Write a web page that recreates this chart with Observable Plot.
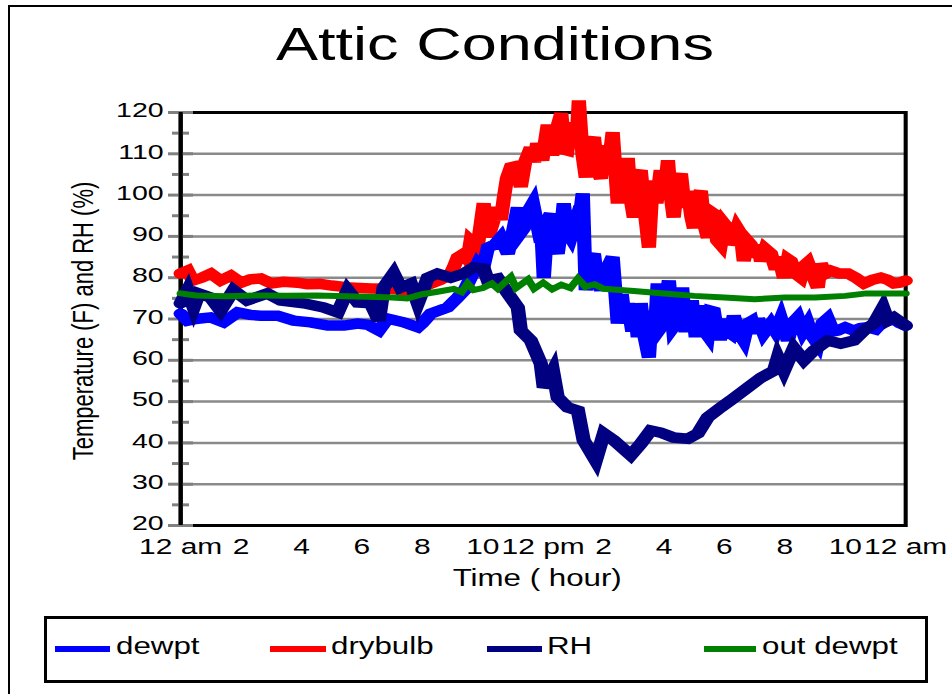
<!DOCTYPE html>
<html><head><meta charset="utf-8">
<script src="https://cdn.jsdelivr.net/npm/d3@7"></script>
<script src="https://cdn.jsdelivr.net/npm/@observablehq/plot@0.6"></script>
<style>
html,body{margin:0;padding:0;background:#fff;overflow:hidden;}
#wrap{position:relative;width:952px;height:694px;overflow:hidden;font-family:"Liberation Sans",Arial,sans-serif;background:#fff;}
#border{position:absolute;left:8px;top:5px;width:1000px;height:800px;border:2px solid #000;box-sizing:border-box;}
#title{position:absolute;left:19px;top:21px;width:952px;text-align:center;font-size:46px;line-height:46px;transform:scaleX(1.37);transform-origin:center;white-space:nowrap;}
#chart{position:absolute;left:0;top:0;}
#legend{position:absolute;left:44px;top:616px;width:884px;height:67px;border:3px solid #000;box-sizing:border-box;background:#fff;}
.sw{position:absolute;top:27px;height:6px;}
.lab{position:absolute;top:16px;font-size:23px;line-height:23px;transform:scaleX(1.36);transform-origin:left center;white-space:nowrap;}
</style>
</head><body>
<div id="wrap">
  <div id="border"></div>
  <div id="chart"></div>
  <div id="title"></div>
  <div id="legend"></div>
</div>
<script>
// ---------- data ----------
const titleText = "Attic Conditions";
const yLabel = "Temperature (F) and RH (%)";
const xLabel = "Time ( hour)";
const xTicks = [0, 2, 4, 6, 8, 10, 12, 14, 16, 18, 20, 22, 24];
const xTickLabels = ["12 am", "2", "4", "6", "8", "10", "12 pm", "2", "4", "6", "8", "10", "12 am"];
const yMajor = [20, 30, 40, 50, 60, 70, 80, 90, 100, 110, 120];
const yMinor = [25, 35, 45, 55, 65, 75, 85, 95, 105, 115];

const seriesNames = ["dewpt", "drybulb", "RH", "out dewpt"];
const seriesColors = ["#0000ff", "#ff0000", "#000080", "#008000"];

const drybulbHours = [0,0.23,0.4,0.7,1.0,1.32,1.66,2.0,2.3,2.65,3.0,3.4,3.87,4.2,4.6,5.0,5.6,6.3,6.9,7.4,7.85,8.1,8.28,8.6,8.94,9.04,9.17,9.37,9.5,9.6,9.83,10.03,10.15,10.25,10.4,10.5,10.6,10.7,10.8,10.93,11.1,11.26,11.4,11.59,11.7,11.8,11.97,12.15,12.3,12.45,12.6,12.7,12.8,12.9,13.0,13.1,13.18,13.3,13.41,13.55,13.68,13.8,13.91,14.05,14.15,14.3,14.4,14.47,14.6,14.7,14.8,14.9,15.0,15.1,15.23,15.35,15.5,15.6,15.66,15.75,15.89,16.0,16.13,16.22,16.32,16.45,16.56,16.68,16.79,16.9,16.99,17.1,17.22,17.33,17.45,17.55,17.65,17.76,17.88,18.0,18.11,18.2,18.31,18.42,18.54,18.64,18.75,18.87,19.0,19.1,19.21,19.35,19.54,19.7,19.8,19.97,20.1,20.2,20.35,20.53,20.65,20.76,20.9,21.09,21.19,21.35,21.52,21.8,22.09,22.35,22.62,22.9,23.18,23.4,23.61,23.8,24];
const drybulbValues = [81,81.7,79.3,80,81,79.3,80.5,78.8,79.6,79.8,78.6,79,78.8,78.4,78.5,78.1,77.6,77.4,77.3,77,76.3,78,78.6,79.5,81,82.5,84.9,85.8,84.5,89,87.5,98,90,91.4,95,97,94,99.4,104,106.7,107,102,108,111.5,108,112.5,108.4,117,109.6,116,119.8,111,110.8,116,117.3,112,122.9,110,104.3,112,114,106,104,112,106,115.2,105,98,108,100,109,99,94.6,104,106,97,87.3,100,103.5,98,106,99,108.4,100,94.6,103,105.2,97,101,95,92,99,101,93,89.7,96,95.5,89,88,93,92,88,89.5,92,90.6,84,89,88,85,88,84,87,85.8,82,85,80,84.5,84,81,80,83,83.7,81,77.6,83.4,81,81.7,81,81,80,78.6,79.5,80,79.5,78.6,78.8,79.3];

const dewptHours = [0,0.23,0.5,0.99,1.42,1.89,2.3,2.65,3.21,3.74,4.3,4.87,5.4,5.86,6.2,6.56,6.85,7.38,7.85,8.0,8.28,8.84,9.17,9.4,9.6,9.83,10.0,10.17,10.4,10.6,10.83,11.0,11.16,11.26,11.36,11.5,11.66,11.8,11.92,12.02,12.15,12.25,12.38,12.48,12.6,12.68,12.8,12.91,13.05,13.15,13.31,13.41,13.55,13.68,13.8,13.91,14.1,14.3,14.47,14.6,14.7,14.8,14.95,15.05,15.13,15.23,15.35,15.5,15.6,15.7,15.79,15.9,15.99,16.08,16.16,16.3,16.46,16.6,16.7,16.79,16.92,17.05,17.15,17.22,17.35,17.45,17.55,17.65,17.78,17.88,18.0,18.1,18.2,18.31,18.45,18.64,18.78,18.9,19.0,19.11,19.3,19.54,19.7,19.87,20.1,20.25,20.43,20.6,20.76,20.9,21.09,21.25,21.42,21.6,21.75,22.0,22.28,22.5,22.75,23.0,23.18,23.4,23.61,23.8,24];
const dewptValues = [71.3,69.6,70,70.4,69.2,71.6,71,70.8,70.8,69.6,69.2,68.4,68.4,68.9,68.6,67.2,70.1,69.2,68,69,71.3,72.8,75.2,77,80,83.4,82,87.3,88,89.7,85.8,91,97,91,92,96,98,93,94.6,80,94,95.5,88,85.8,92,98,91,89.7,93,91.4,100.4,77,84,85.8,79,77,82,85,68.9,76,70,73.8,67,72,65.6,73.8,66,60.7,72,67,78.6,68,68.9,75,79.3,68,69.6,77.6,68,68,74.5,65.6,72,73.2,67,66,72,71.8,66,66,70,67,66.5,70.8,67,64.8,69,69.5,66.5,70.1,66.5,68.9,67,70.1,64.8,69,70.4,67,68.9,66,64,69,70.1,67,67.2,68,67.2,67.8,68,67.5,68.9,69.5,70.1,69,68.4];

const rhHours = [0,0.23,0.43,0.6,0.99,1.32,1.75,2.2,2.87,3.31,4.07,4.73,5.2,5.53,5.86,6.29,6.56,6.72,7.05,7.28,7.62,7.85,8.18,8.5,8.94,9.37,9.7,10.03,10.17,10.5,10.83,11.16,11.26,11.59,11.92,12.02,12.32,12.48,12.81,13.15,13.34,13.74,14.01,14.34,14.9,15.23,15.56,15.89,16.32,16.79,17.12,17.45,17.88,18.21,18.77,19.21,19.64,19.77,19.97,20.3,20.63,20.96,21.42,21.85,22.28,22.62,22.95,23.25,23.41,23.61,24];
const rhValues = [73.8,77,72.8,76.2,75.2,72,77,74.5,76.2,74.5,73.8,72.8,71.6,77,74,73.8,69.6,77.6,81,77.6,78.6,73.8,80,81,80,81,82.5,82.2,79.3,79.8,76.2,72.8,67.2,64.8,59.2,53.4,57.5,51,48.6,47.8,40.6,35.7,42.3,40.6,37,39.8,43,42.5,41.3,41,42.3,46.2,48.6,50.3,53.4,55.8,57.5,60.7,57.5,63,60,62.4,64.8,64,64.8,67.2,68.9,72.8,69.6,70.4,68.4];

const outDewptHours = [0,0.5,1.5,2.5,3.5,4.5,5.5,6.5,7.0,7.5,8.0,8.5,9.04,9.3,9.5,9.7,10.0,10.3,10.5,10.93,11.1,11.5,11.7,12.0,12.3,12.6,12.9,13.15,13.4,13.7,14,15,16,17,18,19,20,21,22,22.7,24];
const outDewptValues = [76.2,75.7,75.5,75.7,75.6,75.7,75.5,75.3,75.2,75.0,76,76.6,77.3,76.5,78.6,77,77.5,78.6,77.3,80.2,77.5,79.6,77.3,78.8,77.2,78.3,77.5,79.8,77.8,78.4,77.3,76.8,76.2,75.6,75.2,74.8,75.2,75.2,75.6,76.2,76.2];

// ---------- build ----------
const rows = (hs, vs) => hs.map((h, i) => ({h, v: vs[i]}));
const drybulb = rows(drybulbHours, drybulbValues);
const dewpt = rows(dewptHours, dewptValues);
const rh = rows(rhHours, rhValues);
const outDewpt = rows(outDewptHours, outDewptValues);

const W = 700, H = 694, SX = 952 / W;
const lineOpts = {x: "h", y: "v", strokeWidth: 10.5, strokeLinejoin: "miter", strokeMiterlimit: 4};

const svg = Plot.plot({
  width: W, height: H,
  marginTop: 112, marginBottom: 169,
  marginLeft: 180 / SX, marginRight: W - 905 / SX,
  x: {domain: [0, 24]},
  y: {domain: [20, 120]},
  style: {fontFamily: "'Liberation Sans', Arial, sans-serif", fontSize: "21px", color: "black", background: "transparent", overflow: "visible"},
  marks: [
    Plot.ruleY(yMajor, {stroke: "#8a8a8a", strokeWidth: 2.5}),
    Plot.frame({stroke: "black", strokeWidth: 3}),
    Plot.ruleY(yMajor, {x1: 0, x2: 0, insetLeft: -12 / SX, insetRight: -13 / SX, stroke: "#808080", strokeWidth: 3}),
    Plot.ruleY(yMinor, {x1: 0, x2: 0, insetLeft: -8 / SX, insetRight: -9 / SX, stroke: "#808080", strokeWidth: 3}),
    Plot.ruleX([0], {stroke: "black", strokeWidth: 3}),
    Plot.axisY({ticks: yMajor, tickSize: 0, tickPadding: 12.5, fontSize: 21, dy: -2, label: null}),
    Plot.axisX({ticks: xTicks, tickSize: 0, tickPadding: 13, fontSize: 22, label: null,
      tickFormat: d => xTickLabels[xTicks.indexOf(d)]}),
    Plot.text([yLabel], {text: d => d, frameAnchor: "left", textAnchor: "middle", lineAnchor: "middle",
      rotate: -90, dx: -(180 - 83) / SX, dy: 2, fontSize: 22}),
    Plot.text([xLabel], {text: d => d, frameAnchor: "bottom", textAnchor: "middle", lineAnchor: "middle",
      dy: 53, dx: -6 / SX, fontSize: 23}),
    Plot.line(drybulb, {...lineOpts, stroke: seriesColors[1]}),
    Plot.line(dewpt, {...lineOpts, stroke: seriesColors[0]}),
    Plot.line(rh, {...lineOpts, stroke: seriesColors[2]}),
    Plot.line(outDewpt, {...lineOpts, strokeWidth: 6, stroke: seriesColors[3]})
  ]
});
svg.setAttribute("width", 952);
svg.setAttribute("height", 694);
svg.setAttribute("viewBox", `0 0 ${W} ${H}`);
svg.setAttribute("preserveAspectRatio", "none");
svg.style.maxWidth = "none";
svg.style.width = "952px";
svg.style.height = "694px";
document.getElementById("chart").appendChild(svg);

document.getElementById("title").textContent = titleText;

// legend (HTML, below the chart)
const legend = document.getElementById("legend");
const swatchLeft = [8, 223, 440, 657];
const swatchWidth = [55, 56, 55, 52];
const labelLeft = [69, 284, 500, 715];
seriesNames.forEach((name, i) => {
  const sw = document.createElement("div");
  sw.className = "sw";
  sw.style.left = swatchLeft[i] + "px";
  sw.style.width = swatchWidth[i] + "px";
  sw.style.background = seriesColors[i];
  legend.appendChild(sw);
  const lab = document.createElement("div");
  lab.className = "lab";
  lab.style.left = labelLeft[i] + "px";
  lab.textContent = name;
  legend.appendChild(lab);
});
</script>
</body></html>
